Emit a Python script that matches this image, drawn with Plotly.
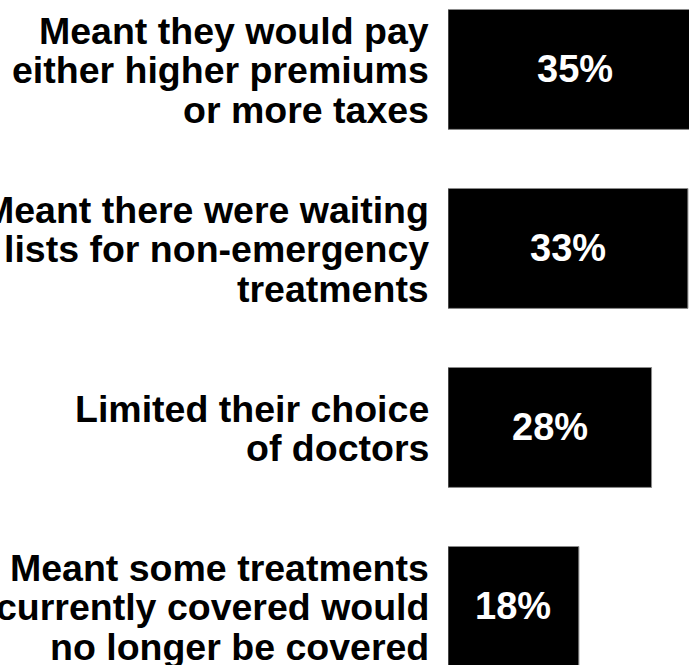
import plotly.graph_objects as go

# Share of respondents citing each consequence
categories = [
    ["Meant they would pay", "either higher premiums", "or more taxes"],
    ["Meant there were waiting", "lists for non-emergency", "treatments"],
    ["Limited their choice", "of doctors"],
    ["Meant some treatments", "currently covered would", "no longer be covered"],
]
values = [35, 33, 28, 18]

FONT = "Liberation Sans, Arial, sans-serif"
LABEL_SIZE = 37.5
VALUE_SIZE = 38
LINE_PITCH = 39.5

positions = list(range(len(values)))

fig = go.Figure()
fig.add_trace(go.Bar(
    x=values,
    y=positions,
    orientation="h",
    width=0.67,
    marker=dict(color="#000000", line=dict(color="#8a8a8a", width=1)),
    hoverinfo="skip",
))

annotations = []
# Value labels centred inside each bar
for pos, v in zip(positions, values):
    annotations.append(dict(
        x=v / 2, y=pos, xref="x", yref="y",
        text=f"<b>{v}%</b>", showarrow=False,
        font=dict(family=FONT, size=VALUE_SIZE, color="#ffffff"),
        xanchor="center", yanchor="middle",
    ))

# Category labels, one right-aligned annotation per line for tight leading
for pos, lines in zip(positions, categories):
    n = len(lines)
    for k, line in enumerate(lines):
        offset = (k - (n - 1) / 2) * LINE_PITCH
        annotations.append(dict(
            x=0, y=pos, xref="x", yref="y",
            text=f"<b>{line}</b>", showarrow=False,
            font=dict(family=FONT, size=LABEL_SIZE, color="#000000"),
            xanchor="right", yanchor="middle",
            xshift=-17, yshift=-offset - 1,
        ))

fig.update_layout(
    width=689, height=665,
    margin=dict(l=448, r=0, t=0, b=0),
    paper_bgcolor="#ffffff", plot_bgcolor="#ffffff",
    showlegend=False,
    annotations=annotations,
    xaxis=dict(range=[0, 33.15], visible=False, fixedrange=True),
    yaxis=dict(range=[3.327, -0.388], visible=False, fixedrange=True),
)

fig.write_html("out.html", config={"displayModeBar": False})
